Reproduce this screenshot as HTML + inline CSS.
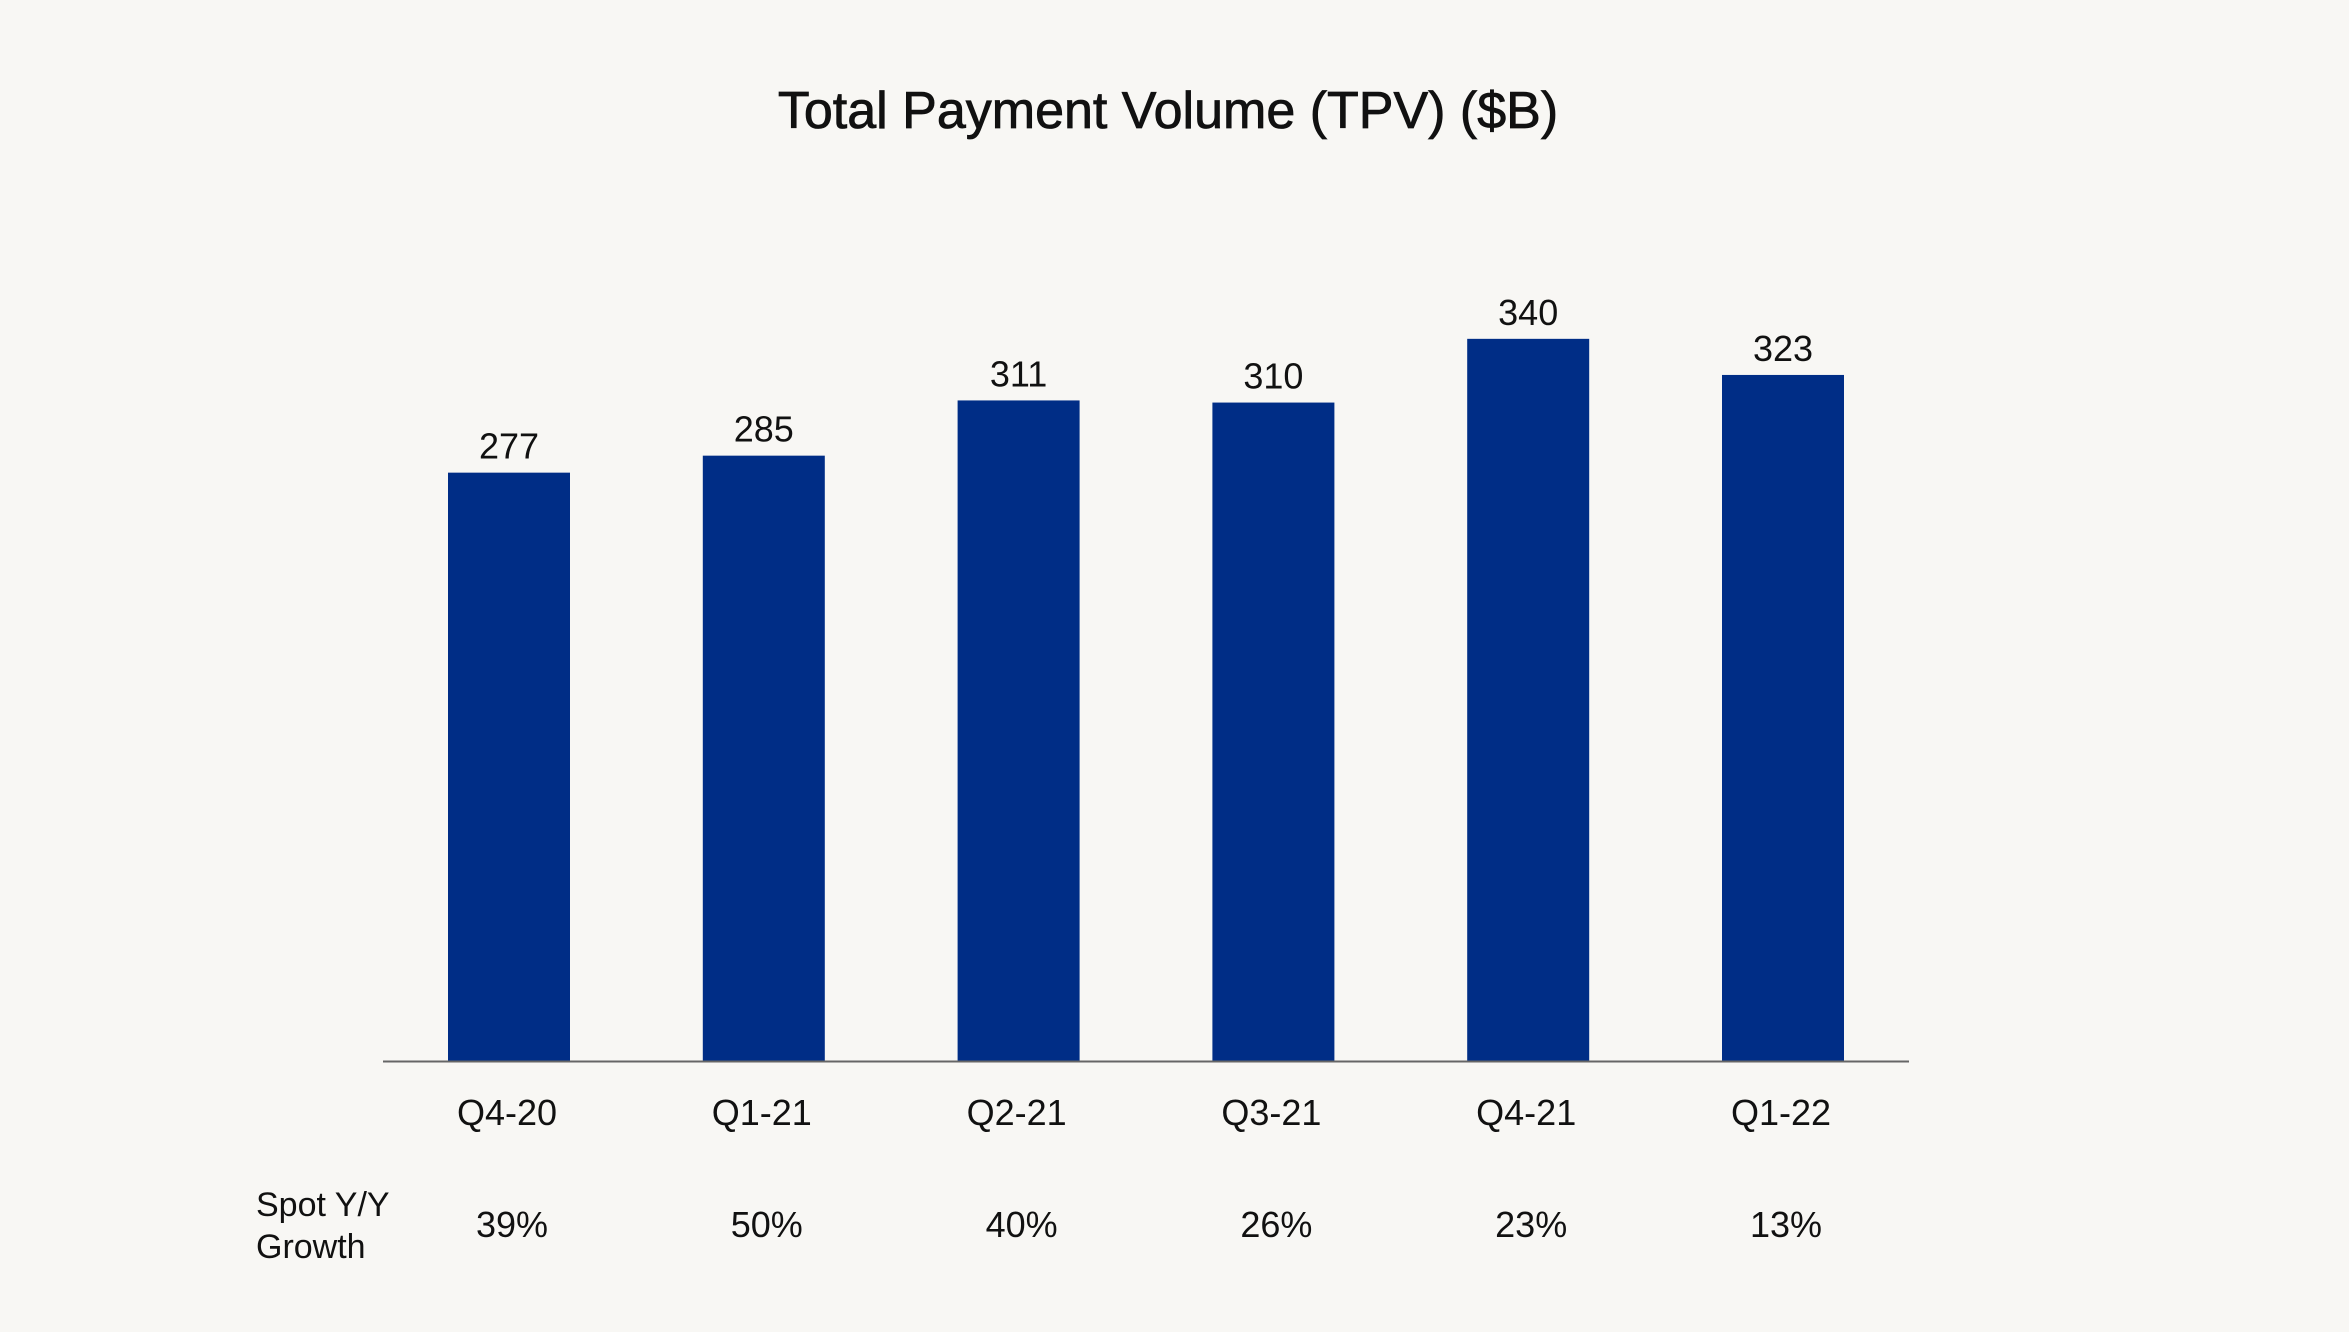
<!DOCTYPE html>
<html><head><meta charset="utf-8"><style>
html,body{margin:0;padding:0;background:#f8f7f4;}
body{width:2349px;height:1327px;overflow:hidden;font-family:"Liberation Sans",sans-serif;}
</style></head><body>
<svg id="chart" width="2349" height="1327" xmlns="http://www.w3.org/2000/svg" font-family="Liberation Sans, sans-serif">
<rect width="2349" height="1327" fill="#f8f7f4"/>
<text x="1168" y="128" text-anchor="middle" font-size="52" fill="#111" stroke="#111" stroke-width="0.8">Total Payment Volume (TPV) ($B)</text>
<g id="bars"></g>
<line x1="383" y1="1061.5" x2="1909" y2="1061.5" stroke="#666" stroke-width="2"/>
<text x="256" y="1216" font-size="34" fill="#111"><tspan x="256">Spot Y/Y</tspan><tspan x="256" dy="42">Growth</tspan></text>
</svg>
<script>
const categories = ["Q4-20","Q1-21","Q2-21","Q3-21","Q4-21","Q1-22"];
const tpvValues = [277,285,311,310,340,323];
const growthLabels = ["39%","50%","40%","26%","23%","13%"];

const ns = "http://www.w3.org/2000/svg";
const g = document.getElementById("bars");
const x0 = 509, step = 254.8, barW = 122;
const baseY = 1061, pxPerUnit = 2.124;
function xScale(i){ return x0 + i*step; }
function yScale(v){ return baseY - v*pxPerUnit; }
function mk(tag, attrs){ const e=document.createElementNS(ns,tag); for(const k in attrs) e.setAttribute(k,attrs[k]); return e; }

categories.forEach((c,i)=>{
  const cx = xScale(i), top = yScale(tpvValues[i]);
  const r = mk("rect",{x:cx-barW/2,y:top,width:barW,height:baseY-top,fill:"#002d86"});
  
  
  g.appendChild(r);
  const v = mk("text",{x:cx,y:top-14,"text-anchor":"middle","font-size":"36",fill:"#111"});
  v.textContent = tpvValues[i];
  
  
  g.appendChild(v);
  const l = mk("text",{x:cx-2,y:1125,"text-anchor":"middle","font-size":"36",fill:"#111"});
  l.textContent = c;
  
  
  g.appendChild(l);
  const gr = mk("text",{x:cx+3,y:1237,"text-anchor":"middle","font-size":"36",fill:"#111"});
  gr.textContent = growthLabels[i];
  
  
  g.appendChild(gr);
});
</script>
</body></html>
